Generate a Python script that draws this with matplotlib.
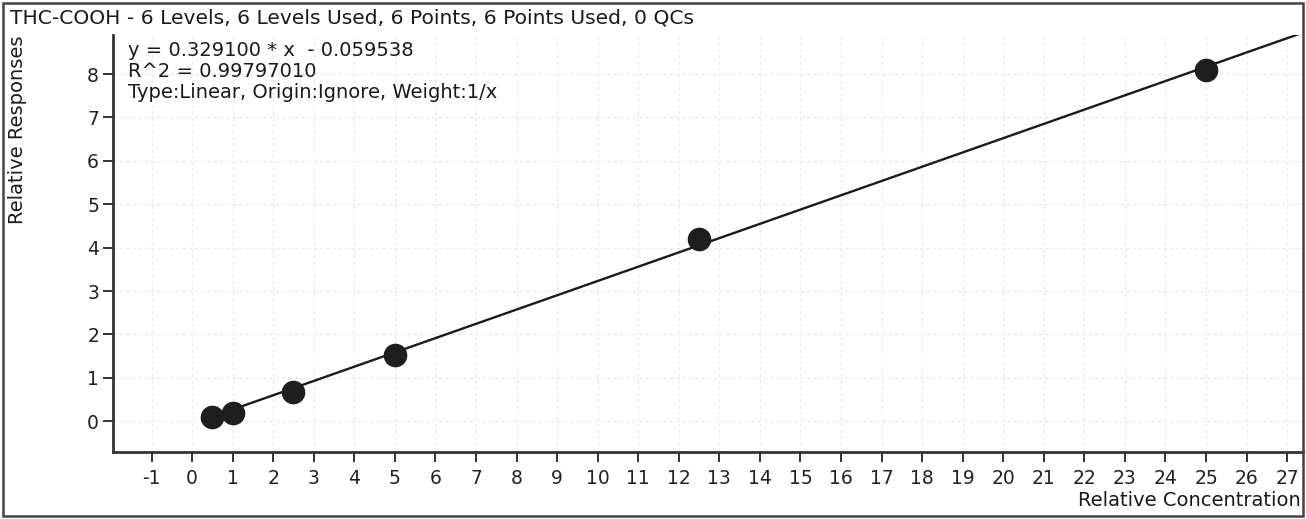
import matplotlib
matplotlib.use("Agg")
import matplotlib.pyplot as plt
import numpy as np
from matplotlib.patches import Rectangle

plt.rcParams['font.family'] = ['DejaVu Sans']
plt.rcParams['axes.unicode_minus'] = False

conc = [0.5, 1.0, 2.5, 5.0, 12.5, 25.0]
resp = [0.10, 0.20, 0.68, 1.53, 4.21, 8.09]
slope = 0.329100
intercept = -0.059538
x_ticks = list(range(-1, 28))
y_ticks = list(range(0, 9))

title = "THC-COOH - 6 Levels, 6 Levels Used, 6 Points, 6 Points Used, 0 QCs"
eq_lines = ["y = 0.329100 * x  - 0.059538", "R^2 = 0.99797010",
            "Type:Linear, Origin:Ignore, Weight:1/x"]

fig = plt.figure(figsize=(13.06, 5.19), dpi=100)
ax = fig.add_axes([0.0865, 0.129, 0.9115, 0.8036])

xmin, xmax = -1.95, 27.4
ymin, ymax = -0.71, 8.9
ax.set_xlim(xmin, xmax)
ax.set_ylim(ymin, ymax)

for t in x_ticks:
    ax.axvline(t, color='#ebebeb', lw=0.9, ls=(0, (3, 2)), zorder=0)
for t in y_ticks:
    ax.axhline(t, color='#ebebeb', lw=0.9, ls=(0, (3, 2)), zorder=0)

xs = np.linspace(0.25, 27.4, 200)
ax.plot(xs, slope * xs + intercept, color='#1a1a1a', lw=1.7, zorder=2)
ax.plot(conc, resp, 'o', color='#1e1e1e', ms=16, zorder=3)

ax.set_xticks(x_ticks)
ax.set_yticks(y_ticks)
ax.tick_params(axis='both', labelsize=13.5, colors='#222222', length=7, width=1.3, direction='out')
ax.tick_params(axis='x', pad=5)
ax.tick_params(axis='y', pad=3)
for s in ['top', 'right']:
    ax.spines[s].set_visible(False)
for s in ['left', 'bottom']:
    ax.spines[s].set_linewidth(2)
    ax.spines[s].set_color('#333333')

fs = 14
fig.text(10 / 1306, 1 - 18 / 519, title, fontsize=14.6, va='center', ha='left', color='#1a1a1a')
for i, line in enumerate(eq_lines):
    fig.text(128 / 1306, 1 - (50 + i * 21.5) / 519, line, fontsize=fs, va='center', ha='left', color='#1a1a1a')
fig.text(18 / 1306, 1 - 130 / 519, "Relative Responses", fontsize=fs, rotation=90,
         va='center', ha='center', color='#1a1a1a')
fig.text(1301 / 1306, 1 - 500 / 519, "Relative Concentration", fontsize=fs,
         va='center', ha='right', color='#1a1a1a')

fig.patches.append(Rectangle((3 / 1306, 3 / 519), 1 - 6 / 1306, 1 - 6 / 519,
                             transform=fig.transFigure, fill=False, ec='#444444', lw=1.8))

fig.savefig("out.png", dpi=100)
